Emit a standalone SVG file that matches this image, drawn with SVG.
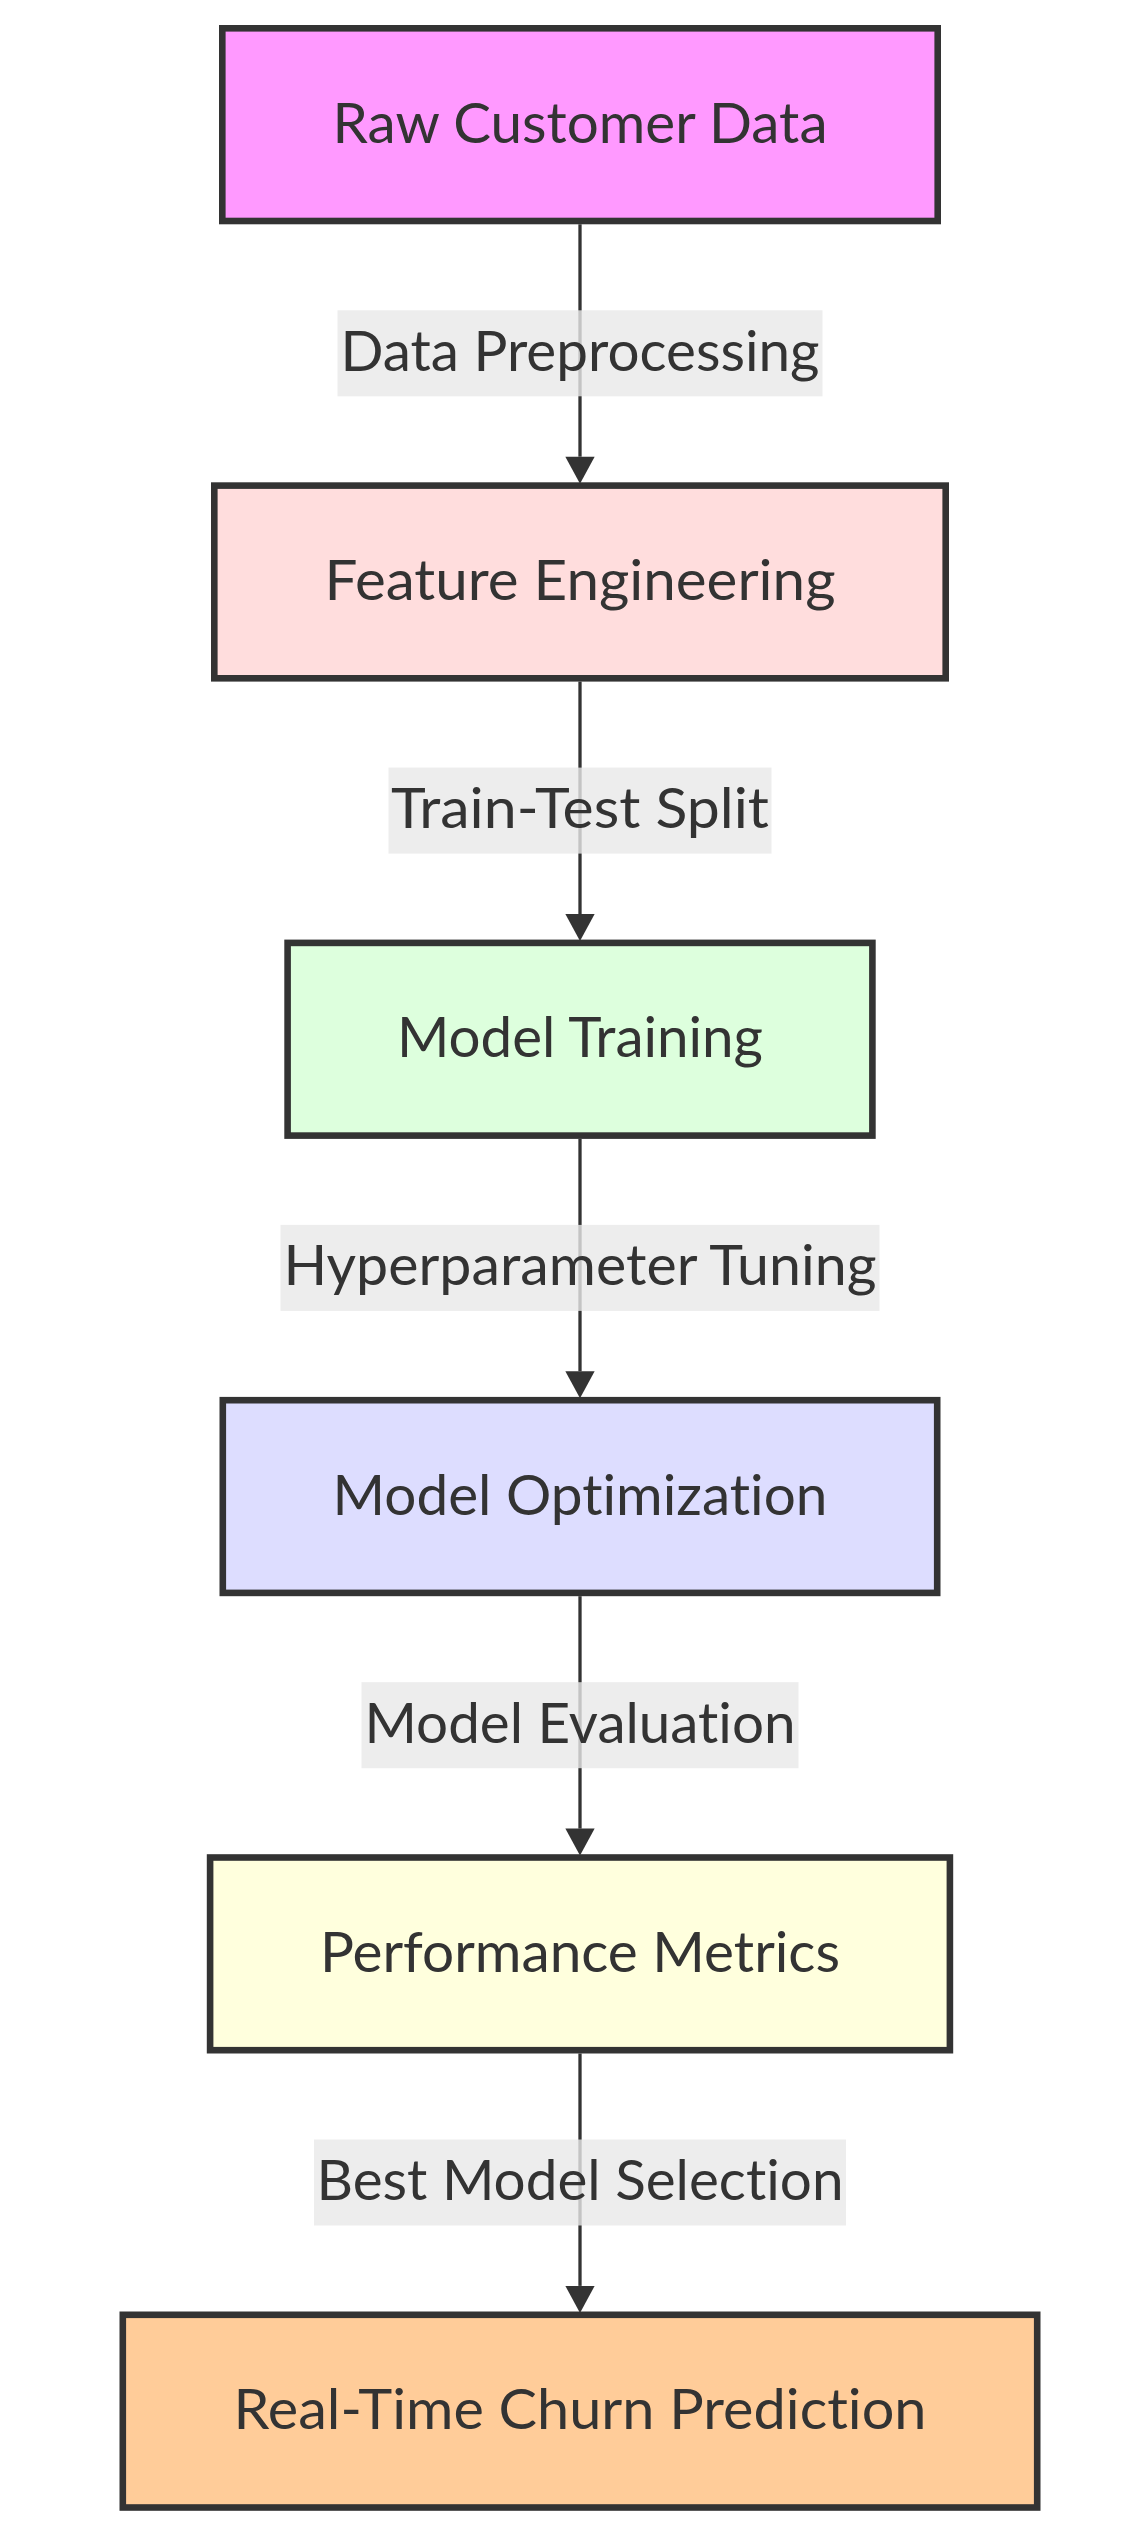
<svg xmlns="http://www.w3.org/2000/svg" width="1141" height="2536" viewBox="0 0 1141 2536">
  <style>
    .node rect { stroke: #333333; stroke-width: 6.6; }
    .node text, .edge-label text { font-family: Lato, "Open Sans", "DejaVu Sans", sans-serif; font-size: 57px; fill: #333333; text-anchor: middle; font-variant-ligatures: none; font-feature-settings: "liga" 0, "clig" 0, "dlig" 0; }
    .edge { stroke: #333333; stroke-width: 3.3; fill: none; }
    .edge-label rect { fill: rgba(232,232,232,0.8); }
  </style>
  <defs>
    <marker id="arrow" markerUnits="userSpaceOnUse" viewBox="0 0 27 29.3" refX="0" refY="14.65" markerWidth="27" markerHeight="29.3" orient="auto" overflow="visible">
      <path d="M0,0 L27,14.65 L0,29.3 Z" fill="#333333"/>
    </marker>
  </defs>
  <rect width="1141" height="2536" fill="#ffffff"/>

  <g id="connectors">
    <line class="edge" x1="580" y1="224.3" x2="580" y2="456.7" marker-end="url(#arrow)"/>
    <line class="edge" x1="580" y1="681.6" x2="580" y2="914" marker-end="url(#arrow)"/>
    <line class="edge" x1="580" y1="1138.9" x2="580" y2="1371.3" marker-end="url(#arrow)"/>
    <line class="edge" x1="580" y1="1596.2" x2="580" y2="1828.6" marker-end="url(#arrow)"/>
    <line class="edge" x1="580" y1="2053.5" x2="580" y2="2285.9" marker-end="url(#arrow)"/>

    <g class="edge-label" id="label-preprocessing">
      <rect x="337.5" y="310.3" width="485" height="86"/>
      <text x="580" y="370.8" textLength="479" lengthAdjust="spacingAndGlyphs">Data Preprocessing</text>
    </g>
    <g class="edge-label" id="label-split">
      <rect x="388.5" y="767.6" width="383" height="86"/>
      <text x="580" y="828.1" textLength="378" lengthAdjust="spacingAndGlyphs">Train-Test Split</text>
    </g>
    <g class="edge-label" id="label-tuning">
      <rect x="280.5" y="1224.9" width="599" height="86"/>
      <text x="580" y="1285.4" textLength="593" lengthAdjust="spacingAndGlyphs">Hyperparameter Tuning</text>
    </g>
    <g class="edge-label" id="label-evaluation">
      <rect x="361.5" y="1682.2" width="437" height="86"/>
      <text x="580" y="1742.7" textLength="431" lengthAdjust="spacingAndGlyphs">Model Evaluation</text>
    </g>
    <g class="edge-label" id="label-selection">
      <rect x="314" y="2139.5" width="532" height="86"/>
      <text x="580" y="2200" textLength="527" lengthAdjust="spacingAndGlyphs">Best Model Selection</text>
    </g>
  </g>

  <g id="raw-data" class="node">
    <rect x="222.3" y="28.3" width="715.4" height="192.7" fill="#ff99ff"/>
    <text x="580" y="142.8" textLength="495" lengthAdjust="spacingAndGlyphs">Raw Customer Data</text>
  </g>
  <g id="feature-engineering" class="node">
    <rect x="214.3" y="485.6" width="731.4" height="192.7" fill="#ffdddd"/>
    <text x="580" y="600.1" textLength="511" lengthAdjust="spacingAndGlyphs">Feature Engineering</text>
  </g>
  <g id="model-training" class="node">
    <rect x="287.6" y="942.9" width="584.8" height="192.7" fill="#ddffdd"/>
    <text x="580" y="1057.4" textLength="366" lengthAdjust="spacingAndGlyphs">Model Training</text>
  </g>
  <g id="model-optimization" class="node">
    <rect x="222.8" y="1400.2" width="714.4" height="192.7" fill="#ddddff"/>
    <text x="580" y="1514.7" textLength="495" lengthAdjust="spacingAndGlyphs">Model Optimization</text>
  </g>
  <g id="performance-metrics" class="node">
    <rect x="210.1" y="1857.5" width="739.8" height="192.7" fill="#ffffdd"/>
    <text x="580" y="1972" textLength="520" lengthAdjust="spacingAndGlyphs">Performance Metrics</text>
  </g>
  <g id="churn-prediction" class="node">
    <rect x="122.8" y="2314.8" width="914.4" height="192.7" fill="#ffcc99"/>
    <text x="580" y="2429.3" textLength="693" lengthAdjust="spacingAndGlyphs">Real-Time Churn Prediction</text>
  </g>
</svg>
